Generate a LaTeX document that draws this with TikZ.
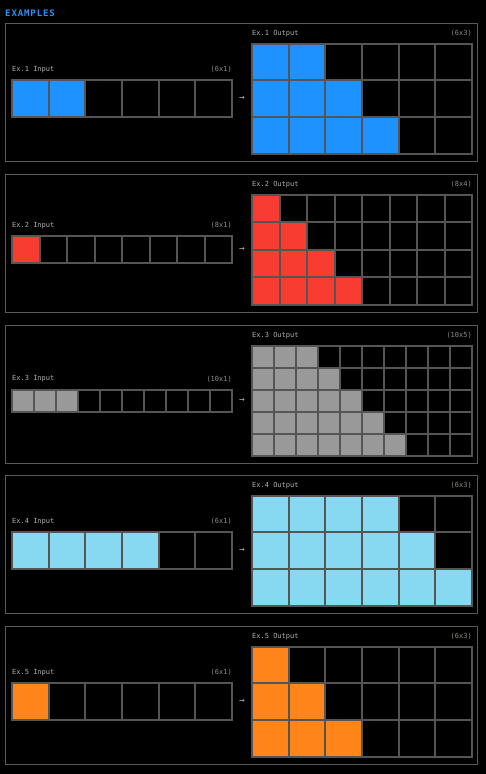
\documentclass[tikz,border=0pt]{standalone}
\usepackage{fontspec}
\newfontfamily\monofam{DejaVu Sans Mono}
\newfontfamily\titlefam[LetterSpace=10]{DejaVu Sans Mono Bold}
\definecolor{bgc}{HTML}{000000}
\definecolor{linec}{HTML}{555555}
\definecolor{boxc}{HTML}{5A5A5A}
\definecolor{labc}{HTML}{B0B0B0}
\definecolor{dimc}{HTML}{8E8E84}
\definecolor{titlec}{HTML}{1E93FF}
\definecolor{cblue}{HTML}{1E93FF}
\definecolor{cred}{HTML}{F93C31}
\definecolor{cgray}{HTML}{999999}
\definecolor{clight}{HTML}{87D8F1}
\definecolor{corange}{HTML}{FF851B}
\tikzset{
  panelbox/.style={draw=boxc, line width=1pt},
  cellbox/.style={draw=linec, line width=2pt},
  lab/.style={text=labc, font=\monofam\fontsize{7}{8}\selectfont, inner sep=0pt},
  dimlab/.style={text=dimc, font=\monofam\fontsize{7}{8}\selectfont, inner sep=0pt},
  arrowlab/.style={text=labc, font=\monofam\fontsize{9.5}{10}\selectfont, inner sep=0pt},
  titlelab/.style={text=titlec, font=\titlefam\fontsize{9}{10}\selectfont, inner sep=0pt}
}
% #1 top, #2 cols, #3 rows, #4 filled in input, #5 colour, #6 example number
\newcommand\drawpanel[6]{%
  \draw[panelbox] (5.5,#1+0.5) rectangle (477.5,#1+138.5);
  \pgfmathsetmacro\cw{220/#2}
  \pgfmathsetmacro\iy{#1+75.5-\cw/2}
  \pgfmathsetmacro\oy{#1+75.5-\cw*#3/2}
  % input grid
  \foreach \c in {1,...,#2}{%
    \pgfmathsetmacro\xa{12+(\c-1)*\cw}
    \ifnum\c>#4\relax\else
      \fill[#5] (\xa,\iy) rectangle ++(\cw,\cw);
    \fi
  }
  \foreach \c in {1,...,#2}{%
    \pgfmathsetmacro\xa{12+(\c-1)*\cw}
    \draw[cellbox] (\xa,\iy) rectangle ++(\cw,\cw);
  }
  % output grid
  \foreach \r in {1,...,#3}{%
    \foreach \c in {1,...,#2}{%
      \pgfmathsetmacro\xa{252+(\c-1)*\cw}
      \pgfmathsetmacro\ya{\oy+(\r-1)*\cw}
      \pgfmathtruncatemacro\lim{#4+\r-1}
      \ifnum\c>\lim\relax\else
        \fill[#5] (\xa,\ya) rectangle ++(\cw,\cw);
      \fi
    }
  }
  \foreach \r in {1,...,#3}{%
    \foreach \c in {1,...,#2}{%
      \pgfmathsetmacro\xa{252+(\c-1)*\cw}
      \pgfmathsetmacro\ya{\oy+(\r-1)*\cw}
      \draw[cellbox] (\xa,\ya) rectangle ++(\cw,\cw);
    }
  }
  \node[lab, anchor=west] (inlab#6) at (12,\iy-10.5) {Ex.#6 Input};
  \node[dimlab, anchor=east] (indim#6) at (232,\iy-10.5) {(#2x1)};
  \node[lab, anchor=west] (outlab#6) at (252,#1+10.5) {Ex.#6 Output};
  \node[dimlab, anchor=east] (outdim#6) at (472,#1+10.5) {(#2x#3)};
  \node[arrowlab] (arr#6) at (242,#1+75.5) {→};
}
\begin{document}
\begin{tikzpicture}[x=1pt,y=-1pt]
\fill[bgc] (0,0) rectangle (486,774);
\useasboundingbox (0,0) rectangle (486,774);
\node[titlelab, anchor=west] (title) at (5,13.5) {EXAMPLES};
\drawpanel{23}{6}{3}{2}{cblue}{1}
\drawpanel{174}{8}{4}{1}{cred}{2}
\drawpanel{325}{10}{5}{3}{cgray}{3}
\drawpanel{475}{6}{3}{4}{clight}{4}
\drawpanel{626}{6}{3}{1}{corange}{5}
\end{tikzpicture}
\end{document}
